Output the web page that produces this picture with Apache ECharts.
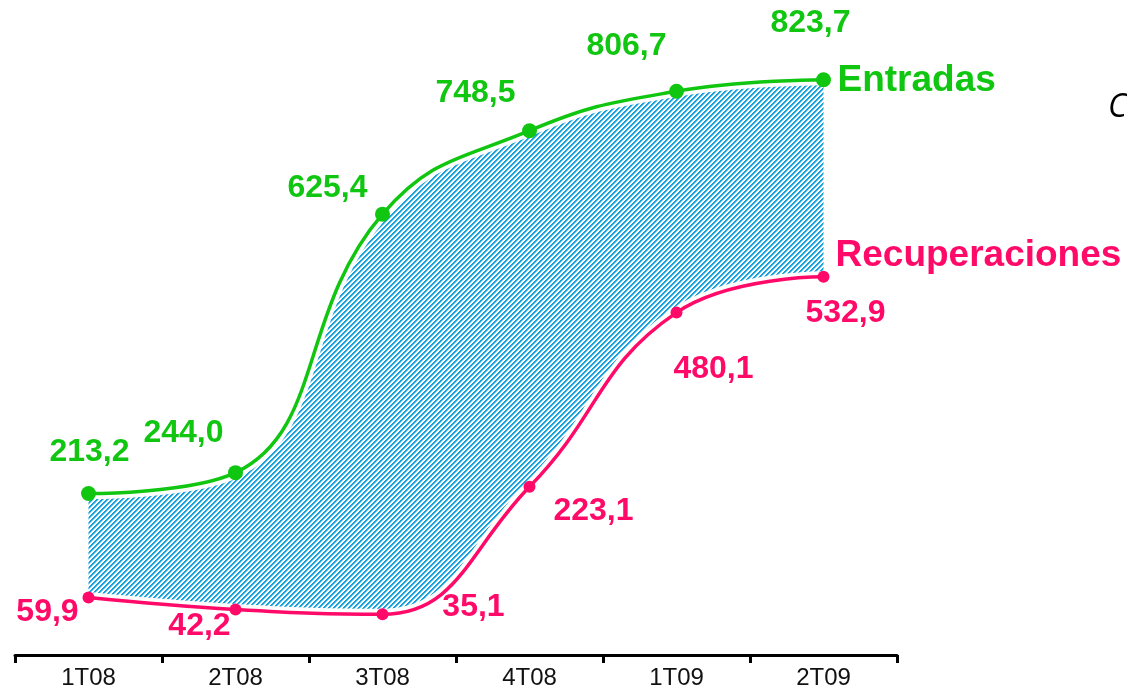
<!DOCTYPE html>
<html>
<head>
<meta charset="utf-8">
<script src="https://cdn.jsdelivr.net/npm/echarts@6/dist/echarts.min.js"></script>
<style>
html,body{margin:0;padding:0;background:#fff;}
#chart{width:1127px;height:690px;}
</style>
</head>
<body>
<div id="chart"></div>
<script>
// Data
const categories = ['1T08', '2T08', '3T08', '4T08', '1T09', '2T09'];
const entradas = [213.2, 244.0, 625.4, 748.5, 806.7, 823.7];
const recuperaciones = [59.9, 42.2, 35.1, 223.1, 480.1, 532.9];
const seriesNames = ['Entradas', 'Recuperaciones'];

// Label offsets (style only)
const greenOffsets = [[1, -41], [-52, -39], [-55, -26], [-54, -38], [-50, -45], [-13, -57]];
const redOffsets = [[-41, 15], [-36, 17], [91, -7], [64, 24], [37, 57], [22, 36]];

const GREEN = '#11c611';
const RED = '#ff0a68';

// Hatch pattern ("/" stripes)
function makeHatch() {
  const n = 5;
  const c = document.createElement('canvas');
  c.width = n; c.height = n;
  const ctx = c.getContext('2d');
  const img = ctx.createImageData(n, n);
  for (let y = 0; y < n; y++) {
    for (let x = 0; x < n; x++) {
      const i = (y * n + x) * 4;
      const k = (x + y) % n;
      let col;
      if (k < 2) col = [0x18, 0xa2, 0xdc];
      else if (k === 2) col = [0x8c, 0xd0, 0xee];
      else col = [255, 255, 255];
      img.data[i] = col[0]; img.data[i+1] = col[1]; img.data[i+2] = col[2];
      img.data[i+3] = 255;
    }
  }
  ctx.putImageData(img, 0, 0);
  return c;
}

const diff = entradas.map((v, i) => +(v - recuperaciones[i]).toFixed(1));
const SMOOTH = 0.45;

const chart = echarts.init(document.getElementById('chart'), null, {renderer: 'canvas'});
chart.setOption({
  animation: false,
  backgroundColor: '#ffffff',
  grid: {left: 15, right: 230, top: 28, bottom: 35, outerBoundsMode: 'none'},
  xAxis: {
    type: 'category',
    data: categories,
    boundaryGap: true,
    axisLine: {onZero: false, lineStyle: {color: '#000', width: 3}},
    axisTick: {show: true, length: 8, lineStyle: {color: '#000', width: 3}},
    axisLabel: {color: '#111', fontFamily: 'Liberation Sans, Arial', fontSize: 24, margin: 11}
  },
  yAxis: {
    type: 'value', min: -25, max: 900,
    show: false, splitLine: {show: false}
  },
  graphic: [{
    type: 'text', left: 1108, top: 92,
    style: {text: 'C', fontFamily: 'Open Sans, Liberation Sans', fontStyle: 'italic', fontSize: 32, fill: '#000'}
  }],
  series: [
    {
      type: 'line', data: recuperaciones, stack: 'band', smooth: SMOOTH,
      symbol: 'none', lineStyle: {opacity: 0}, silent: true
    },
    {
      type: 'line', data: diff, stack: 'band', smooth: SMOOTH,
      symbol: 'none', lineStyle: {opacity: 0},
      areaStyle: {color: {image: makeHatch(), repeat: 'repeat'}, opacity: 1}, silent: true
    },
    {
      type: 'line', data: entradas, smooth: SMOOTH, symbol: 'none',
      lineStyle: {color: '#fff', width: 11}, silent: true
    },
    {
      type: 'line', data: recuperaciones, smooth: SMOOTH, symbol: 'none',
      lineStyle: {color: '#fff', width: 11}, silent: true
    },
    {
      name: seriesNames[0], type: 'line', smooth: SMOOTH,
      data: entradas.map((v, i) => ({value: v, label: {offset: greenOffsets[i]}})),
      symbol: 'circle', symbolSize: 15,
      itemStyle: {color: GREEN},
      lineStyle: {color: GREEN, width: 3.5},
      label: {
        show: true, position: 'inside', color: GREEN, fontWeight: 'bold',
        fontFamily: 'Liberation Sans, Arial', fontSize: 32,
        formatter: p => p.value.toFixed(1).replace('.', ',')
      },
      endLabel: {
        show: true, formatter: '{a}', color: GREEN, fontWeight: 'bold',
        fontFamily: 'Liberation Sans, Arial', fontSize: 37, distance: 14, offset: [0, 1]
      }
    },
    {
      name: seriesNames[1], type: 'line', smooth: SMOOTH,
      data: recuperaciones.map((v, i) => ({value: v, label: {offset: redOffsets[i]}})),
      symbol: 'circle', symbolSize: 12,
      itemStyle: {color: RED},
      lineStyle: {color: RED, width: 3.5},
      label: {
        show: true, position: 'inside', color: RED, fontWeight: 'bold',
        fontFamily: 'Liberation Sans, Arial', fontSize: 32,
        formatter: p => p.value.toFixed(1).replace('.', ',')
      },
      endLabel: {
        show: true, formatter: '{a}', color: RED, fontWeight: 'bold',
        fontFamily: 'Liberation Sans, Arial', fontSize: 37, distance: 12, offset: [0, -21]
      }
    }
  ]
});
</script>
</body>
</html>
